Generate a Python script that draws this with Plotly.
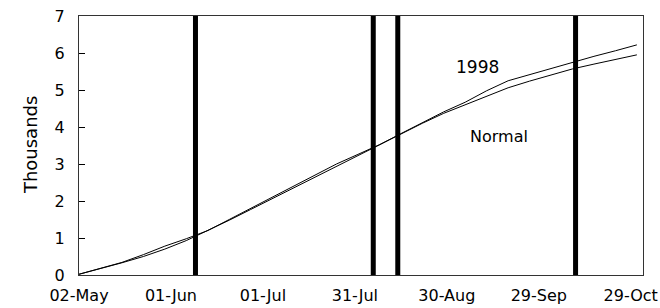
import pandas as pd
import plotly.graph_objects as go

# Weekly sample dates (every 7 days from 02-May-1998)
dates = pd.date_range("1998-05-02", periods=27, freq="7D")

# Cumulative values (thousands)
normal = [0.02, 0.17, 0.33, 0.50, 0.70, 0.93, 1.20, 1.48, 1.77, 2.06, 2.37, 2.66,
          2.94, 3.23, 3.52, 3.82, 4.10, 4.37, 4.60, 4.84, 5.06, 5.24, 5.41, 5.57,
          5.70, 5.83, 5.95]
y1998 = [0.02, 0.18, 0.34, 0.55, 0.78, 0.98, 1.20, 1.50, 1.80, 2.10, 2.42, 2.72,
         3.00, 3.26, 3.52, 3.82, 4.12, 4.41, 4.67, 4.98, 5.25, 5.42, 5.59, 5.76,
         5.91, 6.06, 6.22]

# Event dates marked by heavy vertical bars
events = ["1998-06-09", "1998-08-06", "1998-08-14", "1998-10-11"]

tick_vals = ["1998-05-02", "1998-06-01", "1998-07-01", "1998-07-31",
             "1998-08-30", "1998-09-29", "1998-10-29"]
tick_text = ["02-May", "01-Jun", "01-Jul", "31-Jul", "30-Aug", "29-Sep", "29-Oct"]

FONT = "DejaVu Sans"

fig = go.Figure()
fig.add_trace(go.Scatter(x=dates, y=normal, mode="lines", name="Normal",
                         line=dict(color="black", width=1)))
fig.add_trace(go.Scatter(x=dates, y=y1998, mode="lines", name="1998",
                         line=dict(color="black", width=1)))

for d in events:
    fig.add_shape(type="line", xref="x", yref="paper", x0=d, x1=d, y0=0, y1=1,
                  line=dict(color="black", width=5))

fig.add_annotation(x="1998-09-09", y=5.62, text="1998", showarrow=False,
                   font=dict(family=FONT, size=17, color="black"))
fig.add_annotation(x="1998-09-16", y=3.73, text="Normal", showarrow=False,
                   font=dict(family=FONT, size=16, color="black"))
fig.add_annotation(xref="paper", yref="paper", x=-0.108, y=0.5, text="Thousands",
                   textangle=-90, showarrow=False,
                   font=dict(family=FONT, size=18, color="black"))

fig.update_layout(
    width=660, height=308,
    margin=dict(l=79, r=17, t=16, b=33),
    paper_bgcolor="white", plot_bgcolor="white",
    showlegend=False,
    font=dict(family=FONT, size=16, color="black"),
)
fig.update_xaxes(
    type="date", range=["1998-05-02", "1998-11-02"],
    tickmode="array", tickvals=tick_vals, ticktext=tick_text,
    ticks="", showgrid=False, zeroline=False,
    showline=True, linecolor="#333", linewidth=1, mirror=True,
    ticklabelstandoff=6, automargin=False, ticklabeloverflow="allow",
    tickfont=dict(family=FONT, size=16, color="black"),
)
fig.update_yaxes(
    range=[0, 7], dtick=1, ticks="inside", ticklen=6, tickcolor="black",
    showgrid=False, zeroline=False,
    showline=True, linecolor="#333", linewidth=1, mirror=True,
    ticklabelstandoff=10, automargin=False, ticklabeloverflow="allow",
    tickfont=dict(family=FONT, size=16, color="black"),
)

fig.write_html(
    "out.html",
    config={"displayModeBar": False},
    post_script="document.body.style.margin='0';document.body.style.overflow='hidden';",
)
